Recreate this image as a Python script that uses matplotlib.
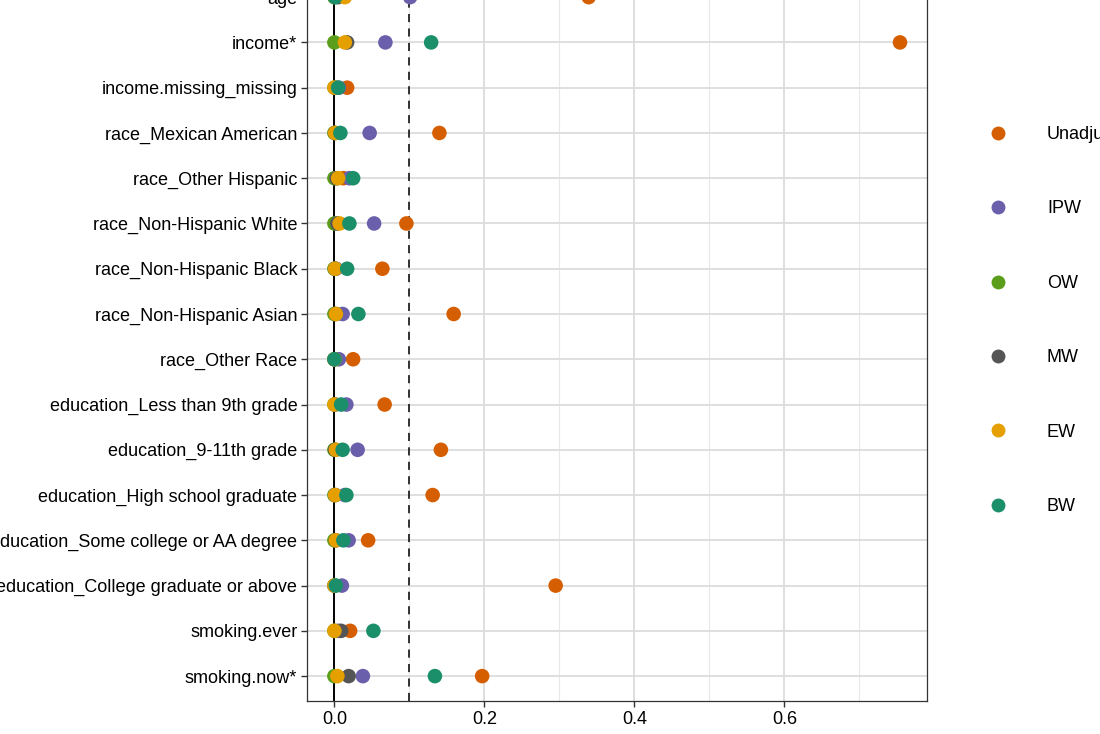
import numpy as np
import matplotlib
matplotlib.use("Agg")
import matplotlib.pyplot as plt
from matplotlib.lines import Line2D

plt.rcParams['font.family'] = ['Liberation Sans', 'DejaVu Sans']

# covariate rows, top to bottom
covariates = [
    "age", "income*", "income.missing_missing", "race_Mexican American",
    "race_Other Hispanic", "race_Non-Hispanic White", "race_Non-Hispanic Black",
    "race_Non-Hispanic Asian", "race_Other Race", "education_Less than 9th grade",
    "education_9-11th grade", "education_High school graduate",
    "education_Some college or AA degree", "education_College graduate or above",
    "smoking.ever", "smoking.now*",
]

methods = ["Unadjusted", "IPW", "OW", "MW", "EW", "BW"]
colors = ["#D55E00", "#6A5FAA", "#5B9E1B", "#555555", "#E5A000", "#1B8E6A"]

# absolute standardized differences
unadjusted = [0.339, 0.754, 0.017, 0.140, 0.012, 0.096, 0.064, 0.159, 0.025, 0.067, 0.142, 0.131, 0.045, 0.295, 0.021, 0.197]
ipw        = [0.101, 0.068, 0.006, 0.047, 0.020, 0.053, 0.002, 0.011, 0.006, 0.016, 0.031, 0.014, 0.019, 0.010, 0.005, 0.038]
ow         = [0.000, 0.000, 0.000, 0.000, 0.000, 0.000, 0.000, 0.000, 0.000, 0.000, 0.000, 0.000, 0.000, 0.000, 0.000, 0.000]
mw         = [0.005, 0.017, 0.001, 0.001, 0.003, 0.004, 0.001, 0.002, 0.000, 0.001, 0.001, 0.001, 0.002, 0.000, 0.009, 0.019]
ew         = [0.014, 0.014, 0.000, 0.001, 0.005, 0.007, 0.001, 0.002, 0.000, 0.000, 0.002, 0.001, 0.002, 0.000, 0.000, 0.004]
bw         = [0.001, 0.129, 0.005, 0.008, 0.025, 0.020, 0.017, 0.032, 0.000, 0.009, 0.011, 0.016, 0.012, 0.002, 0.052, 0.134]

series = [unadjusted, ipw, ow, mw, ew, bw]


def main():
    fig = plt.figure(figsize=(11, 7.34), dpi=100)
    # panel runs past the top edge of the image (the source was cropped)
    ax = fig.add_axes([307 / 1100, 1 - 701 / 734, 620 / 1100, 731 / 734])

    ypos = np.arange(len(covariates))

    ax.set_xlim(-0.0365, 0.790)
    ax.set_ylim(15.55, -0.6)

    for v in [0.0, 0.2, 0.4, 0.6]:
        ax.axvline(v, color="#DCDCDC", lw=1.3, zorder=0)
    for v in [0.1, 0.3, 0.5, 0.7]:
        ax.axvline(v, color="#E8E8E8", lw=0.8, zorder=0)
    for y in ypos:
        ax.axhline(y, color="#DCDCDC", lw=1.3, zorder=0)

    ax.axvline(0, color="black", lw=1.4, zorder=1)
    ax.axvline(0.1, color="#222222", lw=1.3, ls=(0, (4.5, 3.5)), zorder=1)

    for name, col, vals in zip(methods, colors, series):
        ax.scatter(vals, ypos, s=110, color=col, edgecolors="none", zorder=3, label=name)

    ax.set_yticks(ypos)
    ax.set_yticklabels(covariates)
    ax.set_xticks([0.0, 0.2, 0.4, 0.6])
    ax.set_xticklabels(["0.0", "0.2", "0.4", "0.6"])
    ax.tick_params(axis="both", labelsize=13, colors="#333333", labelcolor="black",
                   length=4, width=1.0, pad=3)

    for sp in ax.spines.values():
        sp.set_color("#333333")
        sp.set_linewidth(0.9)

    handles = [Line2D([], [], ls="none", marker="o", markersize=10, color=c,
                      markeredgewidth=0) for c in colors]
    fig.legend(handles, methods, loc="upper left", bbox_to_anchor=(978 / 1100, 1 - 117 / 734),
               frameon=False, fontsize=13, labelspacing=3.18, handletextpad=2.12,
               handlelength=1.2, borderpad=0)

    fig.savefig("out.png", dpi=100)


if __name__ == '__main__':
    main()
